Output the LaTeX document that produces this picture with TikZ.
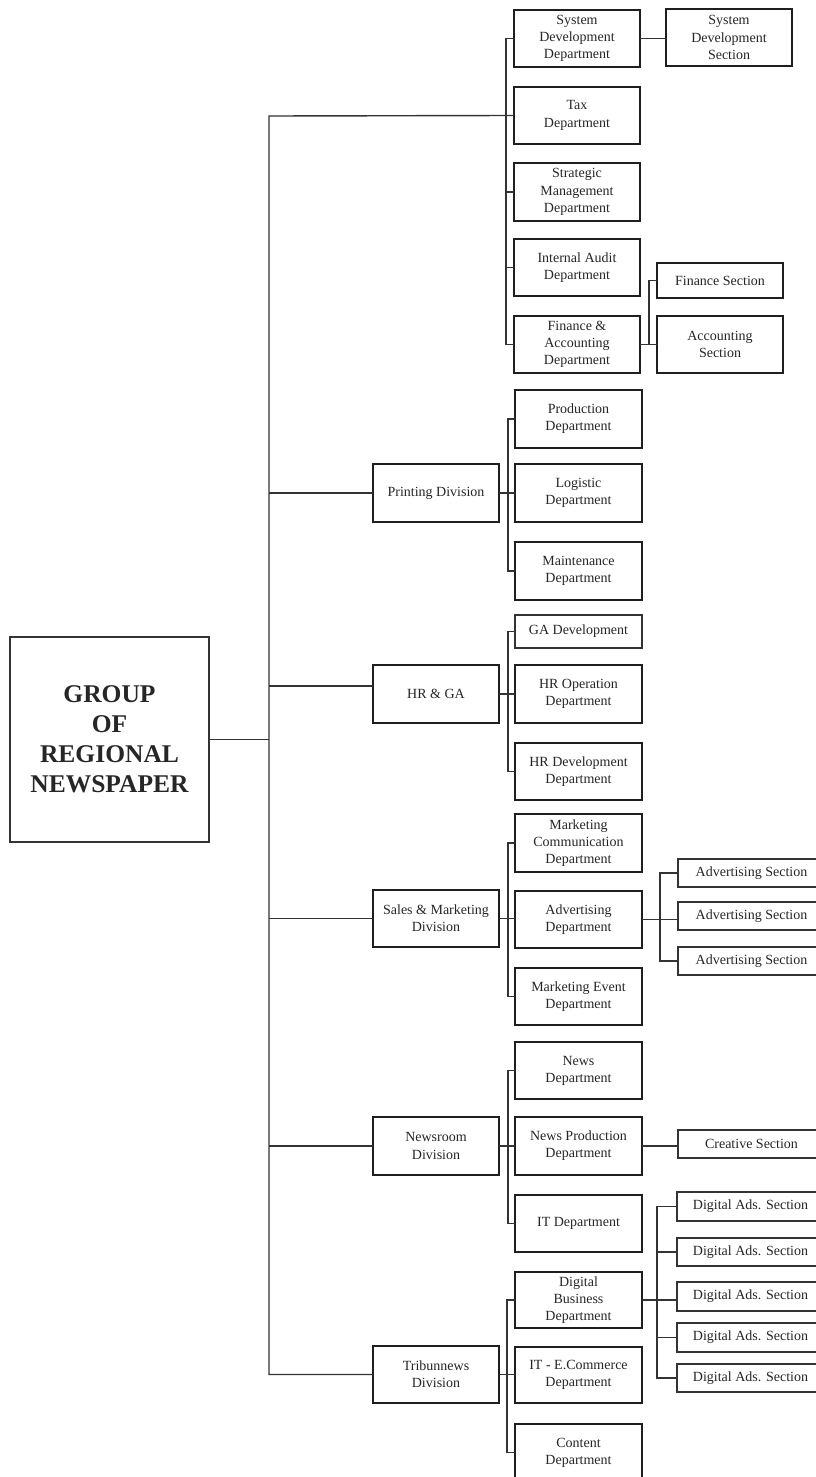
\documentclass[tikz,border=0pt]{standalone}
\usepackage{fontspec}
\setmainfont{Liberation Serif}
\begin{document}
\begin{tikzpicture}[x=1pt,y=1pt,
  every node/.style={inner sep=0pt, outer sep=0pt, align=center, text=black!85},
  dept/.style={draw=black!88, line width=2.1pt, font=\fontsize{14}{17.2}\selectfont},
  sect/.style={draw=black!80, line width=1.4pt, font=\fontsize{14}{17.2}\selectfont},
  rootbox/.style={draw=black!80, line width=1.5pt, font=\bfseries\fontsize{25.5}{30}\selectfont},
  conn/.style={draw=black!80, line width=1.4pt}]
\newcommand\bx[7]{\node[#1, minimum width={#4-#2}, minimum height={#5-#3}] (#6) at ({(#2+#4)/2},{-(#3+#5)/2}) {#7};}
\useasboundingbox (0,0) rectangle (816,-1477);
\fill[white] (0,0) rectangle (816,-1477);
\clip (0,0) rectangle (816,-1477);
% root
\bx{rootbox}{10}{637}{209}{842}{root}{GROUP\\OF\\REGIONAL\\NEWSPAPER}
% divisions
\bx{dept}{373}{464}{499}{522}{print}{Printing Division}
\bx{dept}{373}{665}{499}{723}{hrga}{HR \& GA}
\bx{dept}{373}{890}{499}{947}{sales}{Sales \& Marketing\\Division}
\bx{dept}{373}{1117}{499}{1175}{newsr}{Newsroom\\Division}
\bx{dept}{373}{1346}{499}{1403}{tribun}{Tribunnews\\Division}
% top departments
\bx{dept}{514}{10}{640}{67}{sysdev}{System\\Development\\Department}
\bx{dept}{514}{87}{640}{144}{tax}{Tax\\Department}
\bx{dept}{514}{163}{640}{221}{strat}{Strategic\\Management\\Department}
\bx{dept}{514}{239}{640}{296}{audit}{Internal Audit\\Department}
\bx{dept}{514}{316}{640}{373}{fin}{Finance \&\\Accounting\\Department}
% printing
\bx{dept}{515}{390}{642}{448}{prod}{Production\\Department}
\bx{dept}{515}{464}{642}{522}{logi}{Logistic\\Department}
\bx{dept}{515}{542}{642}{600}{maint}{Maintenance\\Department}
% HR
\bx{sect}{515}{615}{642}{648}{gadev}{GA Development}
\bx{dept}{515}{665}{642}{723}{hrop}{HR Operation\\Department}
\bx{dept}{515}{743}{642}{800}{hrdev}{HR Development\\Department}
% sales
\bx{dept}{515}{814}{642}{872}{mcom}{Marketing\\Communication\\Department}
\bx{dept}{515}{891}{642}{948}{adv}{Advertising\\Department}
\bx{dept}{515}{968}{642}{1025}{mev}{Marketing Event\\Department}
% newsroom
\bx{dept}{515}{1042}{642}{1099}{newsd}{News\\Department}
\bx{dept}{515}{1117}{642}{1175}{nprod}{News Production\\Department}
\bx{dept}{515}{1195}{642}{1252}{itd}{IT Department}
% tribunnews
\bx{dept}{515}{1272}{642}{1328}{digb}{Digital\\Business\\Department}
\bx{dept}{515}{1347}{642}{1403}{itec}{IT - E.Commerce\\Department}
\bx{dept}{515}{1424}{642}{1481}{content}{Content\\Department}
% sections
\bx{dept}{666}{9}{792}{66}{sdsec}{System\\Development\\Section}
\bx{dept}{657}{263}{783}{298}{finsec}{Finance Section}
\bx{dept}{657}{316}{783}{373}{accsec}{Accounting\\Section}
\bx{sect}{678}{859}{825}{887}{ads1}{Advertising Section}
\bx{sect}{678}{902}{825}{930}{ads2}{Advertising Section}
\bx{sect}{678}{947}{825}{975}{ads3}{Advertising Section}
\bx{sect}{678}{1130}{825}{1158}{creat}{Creative Section}
\bx{sect}{677}{1192}{824}{1221}{da1}{Digital Ads. Section}
\bx{sect}{677}{1238}{824}{1266}{da2}{Digital Ads. Section}
\bx{sect}{677}{1282}{824}{1311}{da3}{Digital Ads. Section}
\bx{sect}{677}{1323}{824}{1352}{da4}{Digital Ads. Section}
\bx{sect}{677}{1364}{824}{1392}{da5}{Digital Ads. Section}
% trunk
\coordinate (trunk) at (269,-116);
\draw[conn] (root.east) -- (root.east -| trunk);
\draw[conn] (tax.west) -- (trunk) -- (trunk |- tribun.west) -- (tribun.west);
\draw[conn] (trunk |- print.west) -- (print.west);
\draw[conn] ([yshift=8pt]hrga.west -| trunk) -- ([yshift=8pt]hrga.west);
\draw[conn] (trunk |- sales.west) -- (sales.west);
\draw[conn] (trunk |- newsr.west) -- (newsr.west);
% top bracket
\draw[conn] (sysdev.west) -- ++(-8,0) |- (fin.west);
\draw[conn] (strat.west) -- ++(-8,0);
\draw[conn] (audit.west) -- ++(-8,0);
% division brackets
\draw[conn] (prod.west) -- ++(-7,0) |- (maint.west);
\draw[conn] (print.east) -- (print.east -| logi.west);
\draw[conn] (gadev.west) -- ++(-7,0) |- (hrdev.west);
\draw[conn] (hrga.east) -- (hrga.east -| hrop.west);
\draw[conn] (mcom.west) -- ++(-7,0) |- (mev.west);
\draw[conn] (sales.east) -- (sales.east -| adv.west);
\draw[conn] (newsd.west) -- ++(-7,0) |- (itd.west);
\draw[conn] (newsr.east) -- (newsr.east -| nprod.west);
\draw[conn] (digb.west) -- ++(-8,0) |- (content.west);
\draw[conn] (tribun.east) -- (tribun.east -| itec.west);
% section links
\draw[conn] (sysdev.east) -- (sysdev.east -| sdsec.west);
\draw[conn] (finsec.west) -- ++(-8,0) |- (accsec.west);
\draw[conn] (fin.east) -- (fin.east -| accsec.west);
\draw[conn] (ads1.west) -- ++(-18,0) |- (ads3.west);
\draw[conn] (adv.east) -- (adv.east -| ads2.west);
\draw[conn] (nprod.east) -- (nprod.east -| creat.west);
\draw[conn] (da1.west) -- ++(-20,0) |- (da5.west);
\draw[conn] (da2.west) -- ++(-20,0);
\draw[conn] (da4.west) -- ++(-20,0);
\draw[conn] (digb.east) -- (digb.east -| da3.west);
\end{tikzpicture}
\end{document}
